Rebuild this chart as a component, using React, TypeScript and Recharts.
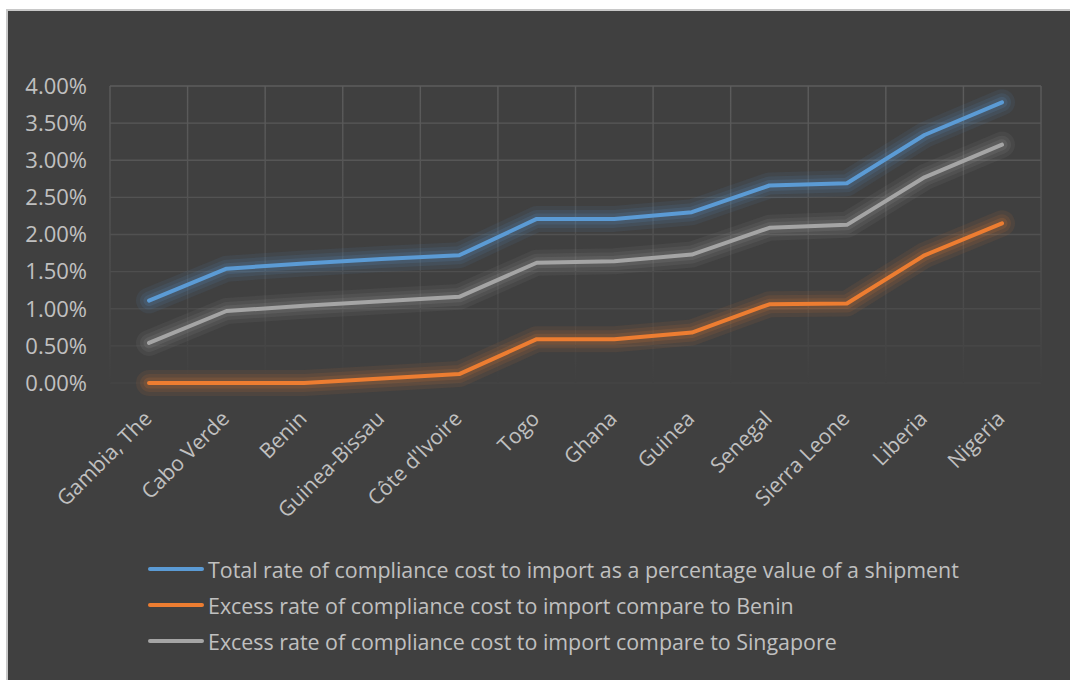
import React from 'react';
import { LineChart, Line, XAxis, YAxis, CartesianGrid, Legend } from 'recharts';

const countries = [
  'Gambia, The', 'Cabo Verde', 'Benin', 'Guinea-Bissau', "Côte d'Ivoire", 'Togo',
  'Ghana', 'Guinea', 'Senegal', 'Sierra Leone', 'Liberia', 'Nigeria',
];
const totalRate = [1.11, 1.54, 1.61, 1.67, 1.72, 2.21, 2.21, 2.30, 2.66, 2.69, 3.34, 3.78];
const excessBenin = [0, 0, 0, 0.06, 0.12, 0.59, 0.59, 0.68, 1.06, 1.07, 1.72, 2.15];
const excessSingapore = [0.54, 0.97, 1.04, 1.10, 1.16, 1.62, 1.64, 1.73, 2.09, 2.13, 2.77, 3.21];
const yTicks = [0, 0.5, 1, 1.5, 2, 2.5, 3, 3.5, 4];
const seriesNames = [
  'Total rate of compliance cost to import as a percentage value of a shipment',
  'Excess rate of compliance cost to import compare to Benin',
  'Excess rate of compliance cost to import compare to Singapore',
];
const seriesKeys = ['total', 'benin', 'singapore'];
const seriesColors = ['#5B9BD5', '#ED7D31', '#A5A5A5'];

const data = countries.map((c, i) => ({
  country: c,
  total: totalRate[i],
  benin: excessBenin[i],
  singapore: excessSingapore[i],
}));

const FONT = '"Open Sans", "Noto Sans", sans-serif';
const TEXT = '#c0c0c0';

const XTick = (props: any) => {
  const { x, y, payload } = props;
  return (
    <text
      x={x + 4}
      y={y + 29}
      transform={`rotate(-45, ${x + 4}, ${y + 29})`}
      textAnchor="end"
      fill={TEXT}
      fontSize={21}
      fontFamily={FONT}
    >
      {payload.value}
    </text>
  );
};

const HLine = (props: any) => {
  const { x1, x2, y1, y2 } = props;
  const top = 75;
  const bottom = 372;
  const t = Math.max(0, Math.min(1, (y1 - top) / (bottom - top)));
  const c = Math.round(0x5c - t * (0x5c - 0x45));
  const col = `rgb(${c},${c},${c})`;
  return <line x1={x1} x2={x2} y1={y1} y2={y2} stroke={col} strokeWidth={1.4} />;
};

const VLine = (props: any) => {
  const { x1, y1, y2 } = props;
  return <rect x={x1 - 0.7} y={y1} width={1.4} height={y2 - y1} fill="url(#vGridGrad)" />;
};

const LegendContent = (props: any) => {
  const payload = (props.payload || [])
    .filter((p: any) => seriesNames.indexOf(p.value) >= 0 && p.type !== 'none')
    .sort((a: any, b: any) => seriesNames.indexOf(a.value) - seriesNames.indexOf(b.value));
  return (
    <div style={{ fontFamily: FONT, fontSize: 21.4, color: TEXT }}>
      {payload.map((p: any, i: number) => (
        <div key={i} style={{ display: 'flex', alignItems: 'center', height: 36 }}>
          <div
            style={{
              width: 56,
              height: 4,
              borderRadius: 2,
              background: p.color,
              marginRight: 4,
            }}
          />
          <span>{p.value}</span>
        </div>
      ))}
    </div>
  );
};

const glowLayers = [
  { width: 26, opacity: 0.08 },
  { width: 18, opacity: 0.1 },
  { width: 11, opacity: 0.14 },
];

export default function App() {
  return (
    <div style={{ position: 'absolute', left: 0, top: 0, width: 1070, height: 680, background: '#ffffff', overflow: 'hidden' }}>
      <svg width={1} height={1} style={{ position: 'absolute', left: 0, top: 0 }}>
        <defs>
          <linearGradient id="vGridGrad" x1="0" y1="0" x2="0" y2="1">
            <stop offset="0%" stopColor="#5c5c5c" />
            <stop offset="75%" stopColor="#4a4a4a" />
            <stop offset="100%" stopColor="#404040" />
          </linearGradient>
        </defs>
      </svg>
      <div
        style={{
          position: 'absolute',
          left: 6,
          top: 9,
          width: 1064,
          height: 671,
          background: '#404040',
          borderLeft: '2px solid #c8c8c8',
          borderTop: '2px solid #c8c8c8',
          boxSizing: 'border-box',
        }}
      >
        <LineChart
          width={1062}
          height={669}
          data={data}
          margin={{ top: 75, right: 29, left: 22, bottom: 177 }}
        >
          <CartesianGrid
            horizontal={HLine as any}
            vertical={VLine as any}
            verticalCoordinatesGenerator={({ offset }: any) =>
              countries.map((_, i) => offset.left + (i * offset.width) / countries.length).concat([offset.left + offset.width])
            }
          />
          <XAxis
            dataKey="country"
            interval={0}
            axisLine={false}
            tickLine={false}
            height={120}
            padding={{ left: 39, right: 39 }}
            tick={<XTick />}
          />
          <YAxis
            domain={[0, 4]}
            ticks={yTicks}
            width={80}
            axisLine={false}
            tickLine={false}
            tickSize={0}
            tickMargin={23}
            tickFormatter={(v: number) => `${v.toFixed(2)}%`}
            tick={{ fill: TEXT, fontSize: 22, fontFamily: FONT }}
          />
          <Legend
            layout="vertical"
            align="center"
            verticalAlign="middle"
            wrapperStyle={{ left: 140, top: 540, width: 'auto' }}
            content={<LegendContent />}
          />
          {seriesKeys.flatMap((k, si) =>
            glowLayers.map((g, gi) => (
              <Line
                key={`glow-${k}-${gi}`}
                type="linear"
                dataKey={k}
                name={`glow-${k}-${gi}`}
                legendType="none"
                stroke={seriesColors[si]}
                strokeOpacity={g.opacity}
                strokeWidth={g.width}
                strokeLinecap="round"
                strokeLinejoin="round"
                dot={false}
                activeDot={false}
                isAnimationActive={false}
              />
            ))
          )}
          {seriesKeys.map((k, si) => (
            <Line
              key={k}
              type="linear"
              dataKey={k}
              name={seriesNames[si]}
              stroke={seriesColors[si]}
              strokeWidth={4}
              strokeLinecap="round"
              strokeLinejoin="round"
              dot={false}
              activeDot={false}
              isAnimationActive={false}
            />
          ))}
        </LineChart>
      </div>
    </div>
  );
}
